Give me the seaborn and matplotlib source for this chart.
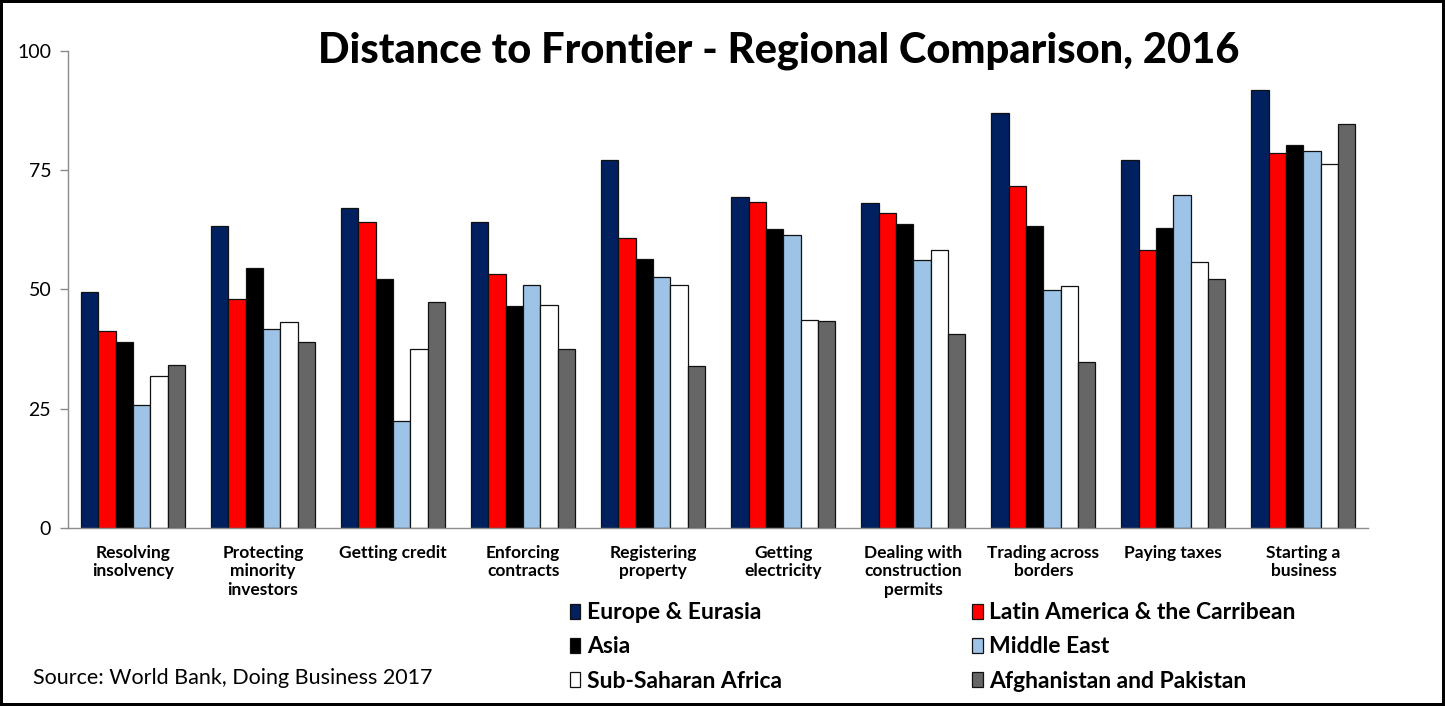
import matplotlib
matplotlib.use("Agg")
import matplotlib.pyplot as plt
import numpy as np
import pandas as pd
import seaborn as sns

indicators = [
    "Resolving\ninsolvency",
    "Protecting\nminority\ninvestors",
    "Getting credit",
    "Enforcing\ncontracts",
    "Registering\nproperty",
    "Getting\nelectricity",
    "Dealing with\nconstruction\npermits",
    "Trading across\nborders",
    "Paying taxes",
    "Starting a\nbusiness",
]

regions = [
    "Europe & Eurasia",
    "Latin America & the Carribean",
    "Asia",
    "Middle East",
    "Sub-Saharan Africa",
    "Afghanistan and Pakistan",
]

europe_eurasia = [49.4, 63.4, 67.0, 64.2, 77.2, 69.3, 68.2, 86.9, 77.2, 91.7]
latin_america = [41.4, 48.0, 64.2, 53.3, 60.8, 68.4, 66.1, 71.6, 58.3, 78.5]
asia = [39.0, 54.5, 52.2, 46.6, 56.4, 62.6, 63.8, 63.4, 62.8, 80.2]
middle_east = [25.7, 41.7, 22.4, 51.0, 52.7, 61.4, 56.1, 49.9, 69.8, 79.1]
sub_saharan_africa = [31.8, 43.2, 37.6, 46.8, 51.0, 43.7, 58.3, 50.7, 55.8, 76.3]
afghanistan_pakistan = [34.2, 38.9, 47.3, 37.6, 33.9, 43.4, 40.6, 34.8, 52.2, 84.6]

y_ticks = [0, 25, 50, 75, 100]

region_colors = ["#002060", "#FF0000", "#000000", "#9DC3E6", "#FFFFFF", "#666666"]

series = [europe_eurasia, latin_america, asia, middle_east,
          sub_saharan_africa, afghanistan_pakistan]
df = pd.DataFrame(
    [(ind, reg, val)
     for reg, vals in zip(regions, series)
     for ind, val in zip(indicators, vals)],
    columns=["indicator", "region", "score"],
)

sns.set_style("white")
plt.rcParams["font.family"] = ["Lato", "DejaVu Sans"]
plt.rcParams["text.color"] = "black"

fig = plt.figure(figsize=(14.45, 7.06), dpi=100,
                 edgecolor="black", linewidth=3)
ax = fig.add_axes([0.047, 0.252, 0.900, 0.676])

sns.barplot(
    data=df, x="indicator", y="score", hue="region",
    order=indicators, hue_order=regions,
    palette=dict(zip(regions, region_colors)), saturation=1,
    width=0.8, edgecolor="#111111", linewidth=0.9,
    errorbar=None, ax=ax, legend=True,
)

ax.set_xlim(-0.5, len(indicators) - 0.5)
ax.set_ylim(0, 100)
ax.set_yticks(y_ticks)
ax.set_yticklabels([str(t) for t in y_ticks], fontsize=14)
ax.set_xlabel("")
ax.set_ylabel("")

# category labels centred, tick marks on the boundaries between groups
ax.set_xticks(range(len(indicators)))
ax.set_xticklabels(indicators, fontsize=12.5, fontweight="bold",
                   linespacing=1.2)
ax.tick_params(axis="x", which="major", length=0, pad=12)
ax.set_xticks(np.arange(-0.5, len(indicators)), minor=True)
ax.tick_params(axis="x", which="minor", length=6, width=1,
               color="#8c8c8c", direction="out")
ax.tick_params(axis="y", length=6, width=1, color="#8c8c8c",
               direction="out", left=True, pad=6)
ax.tick_params(axis="both", labelcolor="black")

for side in ("top", "right"):
    ax.spines[side].set_visible(False)
for side in ("left", "bottom"):
    ax.spines[side].set_color("#8c8c8c")
    ax.spines[side].set_linewidth(1)

handles, labels = ax.get_legend_handles_labels()
ax.get_legend().remove()
order = [0, 2, 4, 1, 3, 5]
fig.legend(
    [handles[i] for i in order], [labels[i] for i in order],
    ncol=2, loc="upper left", bbox_to_anchor=(0.388, 0.160),
    frameon=False, prop={"weight": "bold", "size": 16.5},
    handlelength=0.45, handleheight=0.65, handletextpad=0.3,
    columnspacing=8.3, labelspacing=0.58, borderaxespad=0,
    labelcolor="black",
)

fig.text(0.539, 0.928, "Distance to Frontier - Regional Comparison, 2016",
         ha="center", va="center", fontsize=30, fontweight="black",
         color="black")
fig.text(0.023, 0.04, "Source: World Bank, Doing Business 2017",
         ha="left", va="center", fontsize=15.5, color="black")

fig.savefig("out.png", dpi=100, facecolor="white",
            edgecolor=fig.get_edgecolor())
